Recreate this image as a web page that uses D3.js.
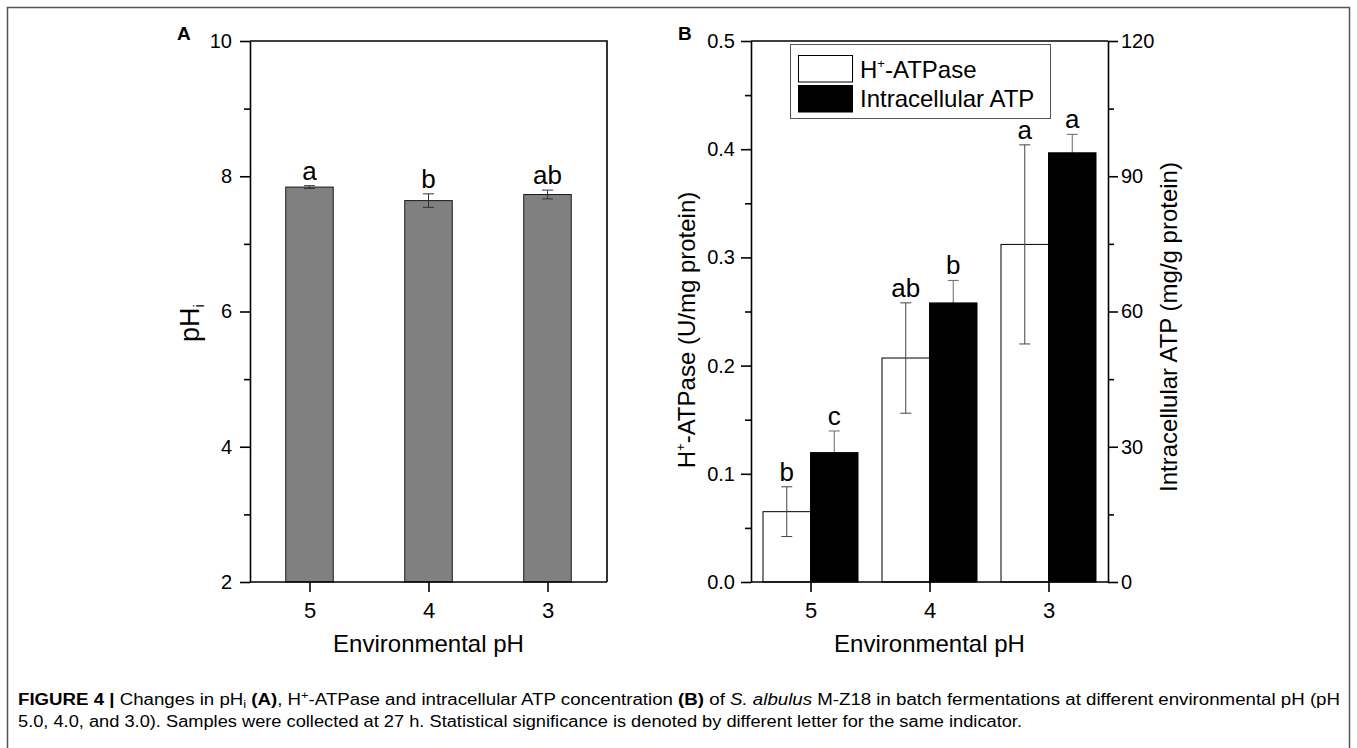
<!DOCTYPE html>
<html>
<head>
<meta charset="utf-8">
<script src="https://cdn.jsdelivr.net/npm/d3@7"></script>
<style>
  html, body { margin: 0; padding: 0; background: #fff; }
  svg { display: block; }
  text { font-family: "Liberation Sans", Arial, Helvetica, sans-serif; fill: #000; }
</style>
</head>
<body>
<svg id="chart" width="1357" height="748"></svg>
<script>
// ---------- data ----------
const categories = ["5", "4", "3"];

// Panel A: intracellular pH
const phiValues  = [7.84, 7.64, 7.73];
const phiErrors  = [0.02, 0.10, 0.065];
const phiLetters = ["a", "b", "ab"];
const phiTicks   = [2, 4, 6, 8, 10];
const phiMinor   = [3, 5, 7, 9];

// Panel B: H+-ATPase (left axis) and intracellular ATP (right axis)
const atpaseValues  = [0.065, 0.207, 0.312];
const atpaseErrors  = [0.023, 0.051, 0.092];
const atpaseLetters = ["b", "ab", "a"];
const atpValues     = [28.7, 61.9, 95.2];
const atpErrors     = [4.8, 5.0, 4.1];
const atpLetters    = ["c", "b", "a"];
const atpaseTicks   = [0.0, 0.1, 0.2, 0.3, 0.4, 0.5];
const atpaseMinor   = [0.05, 0.15, 0.25, 0.35, 0.45];
const atpTicks      = [0, 30, 60, 90, 120];
const atpMinor      = [15, 45, 75, 105];

const legendLabels = ["H+-ATPase", "Intracellular ATP"];

// ---------- layout ----------
const svg = d3.select("#chart");
const plotTop = 41, plotBottom = 582;
const FONT = "\"Liberation Sans\", Arial, Helvetica, sans-serif";
const axisW = 1.6;
const barW = 47.5;

// frame
svg.append("rect").attr("x", 7.5).attr("y", 7.5).attr("width", 1342).attr("height", 800)
  .attr("fill", "none").attr("stroke", "#555").attr("stroke-width", 1.5);

function styleAxis(g, fontSize) {
  g.select(".domain").attr("stroke-width", axisW).attr("stroke", "#000");
  g.selectAll(".tick line").attr("stroke-width", axisW).attr("stroke", "#000");
  g.selectAll(".tick text").attr("font-size", fontSize).attr("font-family", FONT).attr("fill", "#000");
}

function errorBar(g, x, yTop, yBot, color) {
  const cap = 5.5;
  g.append("line").attr("x1", x).attr("x2", x).attr("y1", yTop).attr("y2", yBot)
    .attr("stroke", color).attr("stroke-width", 1);
  g.append("line").attr("x1", x - cap).attr("x2", x + cap).attr("y1", yTop).attr("y2", yTop)
    .attr("stroke", color).attr("stroke-width", 1);
  g.append("line").attr("x1", x - cap).attr("x2", x + cap).attr("y1", yBot).attr("y2", yBot)
    .attr("stroke", color).attr("stroke-width", 1);
}

// ================= Panel A =================
{
  const left = 250, right = 607;
  const x = d3.scalePoint().domain(categories).range([left, right]).padding(0.5);
  const y = d3.scaleLinear().domain([2, 10]).range([plotBottom, plotTop]);
  const g = svg.append("g");

  categories.forEach((c, i) => {
    const cx = x(c);
    g.append("rect").attr("x", cx - barW / 2).attr("width", barW)
      .attr("y", y(phiValues[i])).attr("height", y(2) - y(phiValues[i]))
      .attr("fill", "#808080").attr("stroke", "#1a1a1a").attr("stroke-width", 1);
    const yt = y(phiValues[i] + phiErrors[i]);
    errorBar(g, cx, yt, y(phiValues[i] - phiErrors[i]), "#333");
    g.append("text").attr("x", cx).attr("y", yt - 6).attr("text-anchor", "middle")
      .attr("font-size", 26).text(phiLetters[i]);
  });

  g.append("path").attr("d", `M${left},${plotTop}H${right}V${plotBottom}`)
    .attr("fill", "none").attr("stroke", "#000").attr("stroke-width", axisW);

  const ya = g.append("g").attr("transform", `translate(${left},0)`)
    .call(d3.axisLeft(y).tickValues(phiTicks).tickFormat(d3.format("d")).tickSize(10).tickSizeOuter(0).tickPadding(8));
  styleAxis(ya, 20);
  const ym = g.append("g").attr("transform", `translate(${left},0)`)
    .call(d3.axisLeft(y).tickValues(phiMinor).tickFormat("").tickSize(6).tickSizeOuter(0));
  ym.select(".domain").remove();
  styleAxis(ym, 20);

  const xa = g.append("g").attr("transform", `translate(0,${plotBottom})`)
    .call(d3.axisBottom(x).tickSize(10).tickSizeOuter(0).tickPadding(10));
  styleAxis(xa, 22);
  xa.select(".domain").attr("d", `M${left},0H${right}`);

  g.append("text").attr("x", (left + right) / 2).attr("y", 652).attr("text-anchor", "middle")
    .attr("font-size", 24).text("Environmental pH");

  const yl = g.append("text").attr("transform", "translate(199,323) rotate(-90)")
    .attr("text-anchor", "middle").attr("font-size", 27);
  yl.append("tspan").text("pH");
  yl.append("tspan").attr("font-size", 15).attr("dy", 5).text("i");

  g.append("text").attr("x", 177).attr("y", 40).attr("font-size", 19).attr("font-weight", "bold").text("A");
}

// ================= Panel B =================
{
  const left = 751, right = 1108;
  const x = d3.scalePoint().domain(categories).range([left, right]).padding(0.5);
  const yL = d3.scaleLinear().domain([0, 0.5]).range([plotBottom, plotTop]);
  const yR = d3.scaleLinear().domain([0, 120]).range([plotBottom, plotTop]);
  const g = svg.append("g");

  categories.forEach((c, i) => {
    const cx = x(c);
    const wx = cx - barW / 2, bx = cx + barW / 2;

    // white bar (H+-ATPase) with its error bar on top of it
    g.append("rect").attr("x", cx - barW).attr("width", barW)
      .attr("y", yL(atpaseValues[i])).attr("height", yL(0) - yL(atpaseValues[i]))
      .attr("fill", "#fff").attr("stroke", "#000").attr("stroke-width", 1);
    const wt = yL(atpaseValues[i] + atpaseErrors[i]);
    errorBar(g, wx, wt, yL(atpaseValues[i] - atpaseErrors[i]), "#444");
    g.append("text").attr("x", wx).attr("y", wt - 6).attr("text-anchor", "middle")
      .attr("font-size", 26).text(atpaseLetters[i]);

    // black bar (ATP): error bar drawn first so its lower half is hidden
    const bt = yR(atpValues[i] + atpErrors[i]);
    errorBar(g, bx, bt, yR(atpValues[i] - atpErrors[i]), "#666");
    g.append("rect").attr("x", cx).attr("width", barW)
      .attr("y", yR(atpValues[i])).attr("height", yR(0) - yR(atpValues[i]))
      .attr("fill", "#000").attr("stroke", "#000").attr("stroke-width", 1);
    g.append("text").attr("x", bx).attr("y", bt - 6).attr("text-anchor", "middle")
      .attr("font-size", 26).text(atpLetters[i]);
  });

  g.append("path").attr("d", `M${left},${plotTop}H${right}`)
    .attr("fill", "none").attr("stroke", "#000").attr("stroke-width", axisW);

  const ya = g.append("g").attr("transform", `translate(${left},0)`)
    .call(d3.axisLeft(yL).tickValues(atpaseTicks).tickFormat(d3.format(".1f")).tickSize(10).tickSizeOuter(0).tickPadding(6));
  styleAxis(ya, 20);
  const ym = g.append("g").attr("transform", `translate(${left},0)`)
    .call(d3.axisLeft(yL).tickValues(atpaseMinor).tickFormat("").tickSize(6).tickSizeOuter(0));
  ym.select(".domain").remove();
  styleAxis(ym, 20);

  const yr = g.append("g").attr("transform", `translate(${right},0)`)
    .call(d3.axisRight(yR).tickValues(atpTicks).tickFormat(d3.format("d")).tickSize(10).tickSizeOuter(0).tickPadding(3));
  styleAxis(yr, 20);
  const yrm = g.append("g").attr("transform", `translate(${right},0)`)
    .call(d3.axisRight(yR).tickValues(atpMinor).tickFormat("").tickSize(6).tickSizeOuter(0));
  yrm.select(".domain").remove();
  styleAxis(yrm, 20);

  const xa = g.append("g").attr("transform", `translate(0,${plotBottom})`)
    .call(d3.axisBottom(x).tickSize(10).tickSizeOuter(0).tickPadding(10));
  styleAxis(xa, 22);
  xa.select(".domain").attr("d", `M${left},0H${right}`);

  g.append("text").attr("x", (left + right) / 2).attr("y", 652).attr("text-anchor", "middle")
    .attr("font-size", 24).text("Environmental pH");

  const yl = g.append("text").attr("transform", "translate(695,330) rotate(-90)")
    .attr("text-anchor", "middle").attr("font-size", 24);
  yl.append("tspan").text("H");
  yl.append("tspan").attr("font-size", 13).attr("dy", -10).text("+");
  yl.append("tspan").attr("dy", 10).text("-ATPase (U/mg protein)");

  g.append("text").attr("transform", "translate(1177,327) rotate(-90)")
    .attr("text-anchor", "middle").attr("font-size", 24).text("Intracellular ATP (mg/g protein)");

  const lg = g.append("g");
  lg.append("rect").attr("x", 790.5).attr("y", 44.5).attr("width", 260).attr("height", 74)
    .attr("fill", "#fff").attr("stroke", "#555").attr("stroke-width", 1);
  lg.append("rect").attr("x", 798.5).attr("y", 55.5).attr("width", 54).attr("height", 26.5)
    .attr("fill", "#fff").attr("stroke", "#000").attr("stroke-width", 1);
  lg.append("rect").attr("x", 798.5).attr("y", 85.5).attr("width", 54).attr("height", 26.5)
    .attr("fill", "#000").attr("stroke", "#000").attr("stroke-width", 1);
  const t1 = lg.append("text").attr("x", 860).attr("y", 78).attr("font-size", 24);
  t1.append("tspan").text(legendLabels[0].slice(0, 1));
  t1.append("tspan").attr("font-size", 13).attr("dy", -10).text(legendLabels[0].slice(1, 2));
  t1.append("tspan").attr("dy", 10).text(legendLabels[0].slice(2));
  lg.append("text").attr("x", 860).attr("y", 107).attr("font-size", 24).text(legendLabels[1]);

  g.append("text").attr("x", 678).attr("y", 40).attr("font-size", 19).attr("font-weight", "bold").text("B");
}

// ================= Caption =================
{
  const c1 = svg.append("text").attr("x", 18).attr("y", 705).attr("font-size", 16)
    .attr("fill", "#231f20").attr("textLength", 1322).attr("lengthAdjust", "spacingAndGlyphs");
  c1.append("tspan").attr("font-weight", "bold").text("FIGURE 4 | ");
  c1.append("tspan").text("Changes in pH");
  c1.append("tspan").attr("font-size", 11).attr("dy", 3).text("i");
  c1.append("tspan").attr("dy", -3).attr("font-weight", "bold").text(" (A)");
  c1.append("tspan").text(", H");
  c1.append("tspan").attr("font-size", 11).attr("dy", -6).text("+");
  c1.append("tspan").attr("dy", 6).text("-ATPase and intracellular ATP concentration ");
  c1.append("tspan").attr("font-weight", "bold").text("(B)");
  c1.append("tspan").text(" of ");
  c1.append("tspan").attr("font-style", "italic").text("S. albulus");
  c1.append("tspan").text(" M-Z18 in batch fermentations at different environmental pH (pH");

  svg.append("text").attr("x", 18).attr("y", 727).attr("font-size", 16)
    .attr("fill", "#231f20").attr("textLength", 1004).attr("lengthAdjust", "spacingAndGlyphs")
    .text("5.0, 4.0, and 3.0). Samples were collected at 27 h. Statistical significance is denoted by different letter for the same indicator.");
}
</script>
</body>
</html>
